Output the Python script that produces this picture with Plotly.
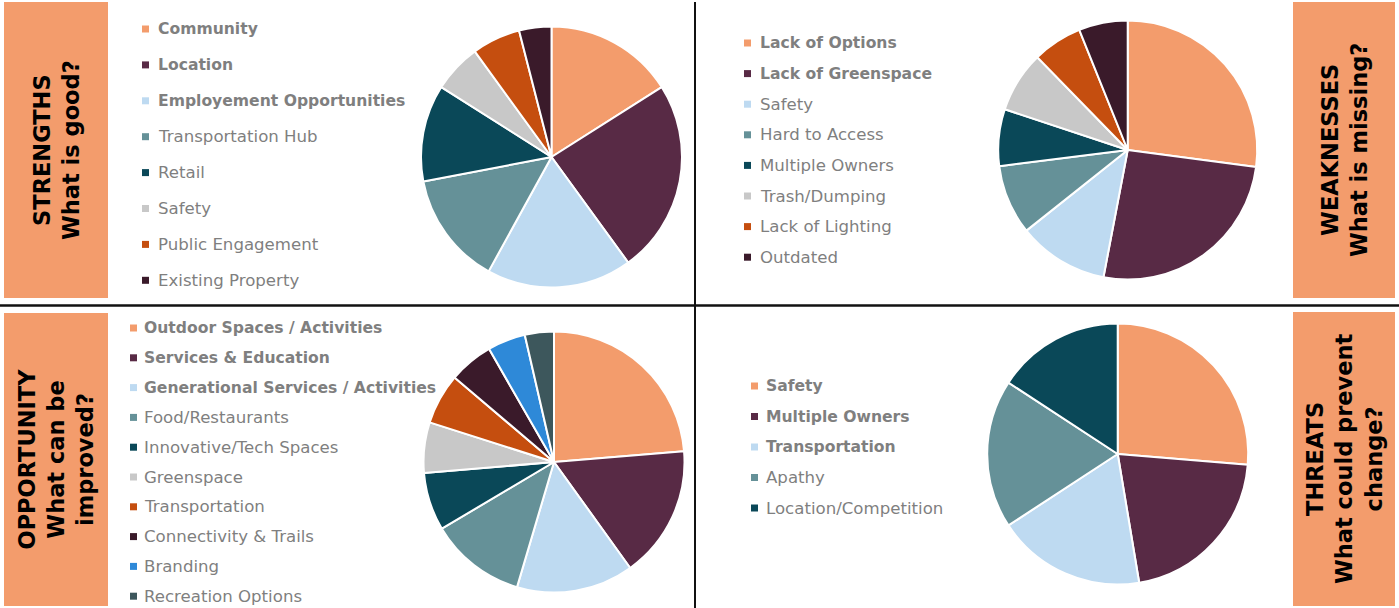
import plotly.graph_objects as go

W, H = 1399, 608

# ---- data -------------------------------------------------------------
strength_labels = ["Community", "Location", "Employement Opportunities",
                   "Transportation Hub", "Retail", "Safety",
                   "Public Engagement", "Existing Property"]
strength_values = [8, 12, 9, 7, 6, 3, 3, 2]

weakness_labels = ["Lack of Options", "Lack of Greenspace", "Safety",
                   "Hard to Access", "Multiple Owners", "Trash/Dumping",
                   "Lack of Lighting", "Outdated"]
weakness_values = [27.1, 25.9, 11.3, 8.7, 7.1, 7.6, 6.2, 6.1]

opportunity_labels = ["Outdoor Spaces / Activities", "Services & Education",
                      "Generational Services / Activities", "Food/Restaurants",
                      "Innovative/Tech Spaces", "Greenspace", "Transportation",
                      "Connectivity & Trails", "Branding", "Recreation Options"]
opportunity_values = [23.7, 16.4, 14.5, 11.9, 7.2, 6.25, 6.3, 5.5, 4.7, 3.6]

threat_labels = ["Safety", "Multiple Owners", "Transportation", "Apathy",
                 "Location/Competition"]
threat_values = [10, 8, 7, 7, 6]

panel_titles = {
    "strengths": "STRENGTHS<br>What is good?",
    "weaknesses": "WEAKNESSES<br>What is missing?",
    "opportunity": "OPPORTUNITY<br>What can be<br>improved?",
    "threats": "THREATS<br>What could prevent<br>change?",
}

# ---- styling ----------------------------------------------------------
palette = ["#F39C6C", "#582A45", "#BEDAF1", "#659198", "#0A4858",
           "#C8C8C8", "#C54E0F", "#3A1A2A", "#2E89D8", "#3D575C"]
box_color = "#F39C6C"
text_gray = "#7F7F7F"
FONT = "DejaVu Sans"


def px(x):
    return x / W


def py(y):
    return 1 - y / H


panels = [
    # labels, values, bold count, pie centre/radius, legend layout, title box
    dict(labels=strength_labels, values=strength_values, bold=3,
         cx=551.5, cy=157, r=130.5,
         mx=145.5, tx=156, ly0=29, ldy=35.9,
         box=(4, 2, 108, 298), title=panel_titles["strengths"]),
    dict(labels=weakness_labels, values=weakness_values, bold=2,
         cx=1127.7, cy=150, r=129.5,
         mx=747.5, tx=758, ly0=43, ldy=30.6,
         box=(1293, 2, 1395, 298), title=panel_titles["weaknesses"]),
    dict(labels=opportunity_labels, values=opportunity_values, bold=3,
         cx=554, cy=462, r=130.5,
         mx=133.5, tx=142, ly0=328, ldy=29.8,
         box=(4, 313, 108, 606), title=panel_titles["opportunity"]),
    dict(labels=threat_labels, values=threat_values, bold=3,
         cx=1117.7, cy=454, r=130.5,
         mx=754.5, tx=764, ly0=386, ldy=30.5,
         box=(1293, 312, 1395, 606), title=panel_titles["threats"]),
]

fig = go.Figure()
shapes = []
annotations = []

for p in panels:
    n = len(p["labels"])
    cols = palette[:n]
    fig.add_trace(go.Pie(
        labels=p["labels"], values=p["values"],
        marker=dict(colors=cols, line=dict(color="white", width=2)),
        sort=False, direction="clockwise", rotation=0,
        textinfo="none", hoverinfo="label+percent", showlegend=False,
        domain=dict(x=[px(p["cx"] - p["r"]), px(p["cx"] + p["r"])],
                    y=[py(p["cy"] + p["r"]), py(p["cy"] - p["r"])]),
    ))

    # legend: colour square + label
    for i, (lab, col) in enumerate(zip(p["labels"], cols)):
        y = p["ly0"] + i * p["ldy"]
        s = 3.5
        shapes.append(dict(type="rect", xref="paper", yref="paper",
                           x0=px(p["mx"] - s), x1=px(p["mx"] + s),
                           y0=py(y + s), y1=py(y - s),
                           fillcolor=col, line=dict(width=0)))
        bold = i < p["bold"]
        txt = f"<b>{lab}</b>" if bold else lab
        annotations.append(dict(xref="paper", yref="paper",
                                x=px(p["tx"]), y=py(y),
                                xanchor="left", yanchor="middle",
                                text=txt, showarrow=False,
                                font=dict(family=FONT,
                                          size=15.6 if bold else 16.6,
                                          color=text_gray)))

    # title box
    x0, y0, x1, y1 = p["box"]
    shapes.append(dict(type="rect", xref="paper", yref="paper",
                       x0=px(x0), x1=px(x1), y0=py(y1), y1=py(y0),
                       fillcolor=box_color, line=dict(width=0), layer="below"))
    annotations.append(dict(xref="paper", yref="paper",
                            x=px((x0 + x1) / 2), y=py((y0 + y1) / 2),
                            xanchor="center", yanchor="middle",
                            text=f"<b>{p['title']}</b>", textangle=-90,
                            showarrow=False,
                            font=dict(family=FONT, size=22.5, color="black")))

# quadrant dividers
shapes.append(dict(type="line", xref="paper", yref="paper",
                   x0=0, x1=1, y0=py(305.5), y1=py(305.5),
                   line=dict(color="#111111", width=2.5)))
shapes.append(dict(type="line", xref="paper", yref="paper",
                   x0=px(695), x1=px(695), y0=py(2), y1=0,
                   line=dict(color="#111111", width=2)))

fig.update_layout(
    width=W, height=H,
    margin=dict(l=0, r=0, t=0, b=0),
    paper_bgcolor="white", plot_bgcolor="white",
    shapes=shapes, annotations=annotations,
    font=dict(family=FONT),
)

fig.write_html("out.html")
